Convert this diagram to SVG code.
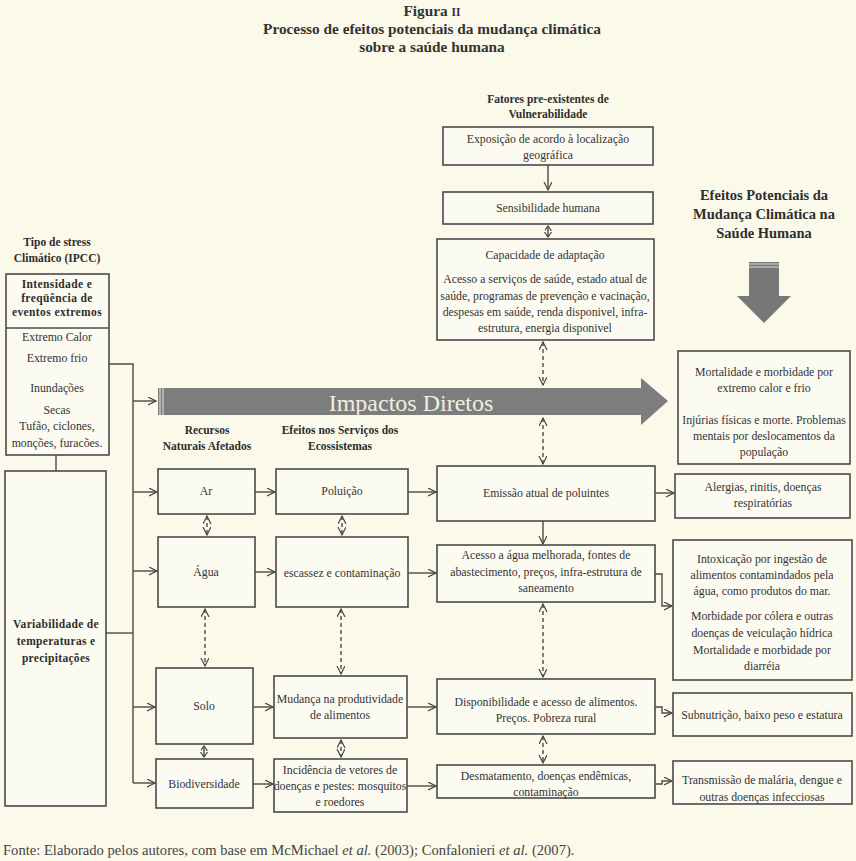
<svg xmlns="http://www.w3.org/2000/svg" width="856" height="861" viewBox="0 0 856 861">
<defs>
<marker id="ah" markerUnits="userSpaceOnUse" markerWidth="10" markerHeight="10" refX="8" refY="4" orient="auto-start-reverse">
<path d="M0,0 L8,4 L0,8" fill="none" stroke="#444" stroke-width="1.2"/>
</marker>
<marker id="ahs" markerUnits="userSpaceOnUse" markerWidth="8" markerHeight="8" refX="5" refY="3.5" orient="auto-start-reverse">
<path d="M0,0 L5,3.5 L0,7" fill="none" stroke="#444" stroke-width="1.2"/>
</marker>
<style>
.bx{fill:#fcfbf1;stroke:#4a4a4a;stroke-width:1.6}
.t{font-family:"Liberation Serif","Times New Roman",serif;font-size:11.8px;fill:#333;text-anchor:middle}
.b{font-family:"Liberation Serif","Times New Roman",serif;font-size:11.5px;font-weight:bold;fill:#2e2e2e;text-anchor:middle}
.h{font-family:"Liberation Serif","Times New Roman",serif;font-size:14.5px;font-weight:bold;fill:#2e2e2e;text-anchor:middle}
.ti{font-family:"Liberation Serif",Georgia,serif;font-size:15.3px;font-weight:bold;fill:#333;text-anchor:middle}
.ln{fill:none;stroke:#4a4a4a;stroke-width:1.4}
.ar{fill:none;stroke:#4a4a4a;stroke-width:1.4;marker-end:url(#ah)}
.da{fill:none;stroke:#4a4a4a;stroke-width:1.4;stroke-dasharray:4,3;marker-end:url(#ah);marker-start:url(#ah)}
.dd{fill:none;stroke:#4a4a4a;stroke-width:1.4;marker-end:url(#ahs);marker-start:url(#ahs)}
</style>
</defs>
<rect x="0" y="0" width="856" height="861" fill="#fbf9ea"/>

<g id="title">
<text class="ti" x="432" y="16">Figura <tspan font-size="11.5">II</tspan></text>
<text class="ti" x="432" y="34">Processo de efeitos potenciais da mudança climática</text>
<text class="ti" x="432" y="52">sobre a saúde humana</text>
</g>

<g id="hdr-stress">
<text class="b" x="57" y="246">Tipo de stress</text>
<text class="b" x="57" y="262">Climático (IPCC)</text>
</g>
<g id="hdr-fatores">
<text class="b" x="548" y="103">Fatores pre-existentes de</text>
<text class="b" x="548" y="118">Vulnerabilidade</text>
</g>
<g id="hdr-efeitos">
<text class="h" x="764" y="200">Efeitos Potenciais da</text>
<text class="h" x="764" y="219">Mudança Climática na</text>
<text class="h" x="764" y="238">Saúde Humana</text>
<path d="M749,262 H779 V296 H791 L764,323 L737,296 H749 Z" fill="#777"/>
<line x1="749" y1="264" x2="779" y2="264" stroke="#ddd" stroke-width="1"/>
<line x1="749" y1="267" x2="779" y2="267" stroke="#ddd" stroke-width="1"/>
</g>
<g id="hdr-recursos">
<text class="b" x="207" y="434">Recursos</text>
<text class="b" x="207" y="450">Naturais Afetados</text>
</g>
<g id="hdr-servicos">
<text class="b" x="340" y="434">Efeitos nos Serviços dos</text>
<text class="b" x="340" y="450">Ecossistemas</text>
</g>

<g id="impactos">
<path d="M158,388 H641 V378 L668,401 L641,425 V415 H158 Z" fill="#7d7d7d"/>
<line x1="160" y1="388" x2="160" y2="415" stroke="#e8e6da" stroke-width="1"/>
<line x1="163" y1="388" x2="163" y2="415" stroke="#e8e6da" stroke-width="1"/>
<text x="411" y="411" font-family="'Liberation Serif','Times New Roman',serif" font-size="24" fill="#f0eee4" text-anchor="middle">Impactos  Diretos</text>
</g>

<g id="n-eventos">
<rect class="bx" x="6" y="274" width="103" height="181"/>
<line class="ln" x1="6" y1="328" x2="109" y2="328"/>
<text class="b" x="57" y="288" letter-spacing="0.4">Intensidade e</text>
<text class="b" x="57" y="302" letter-spacing="0.4">freqüência de</text>
<text class="b" x="57" y="316" letter-spacing="0.4">eventos extremos</text>
<text class="t" x="57" y="341">Extremo Calor</text>
<text class="t" x="57" y="362">Extremo frio</text>
<text class="t" x="57" y="392">Inundações</text>
<text class="t" x="57" y="414">Secas</text>
<text class="t" x="57" y="430">Tufão, ciclones,</text>
<text class="t" x="57" y="447">monções, furacões.</text>
</g>
<g id="n-variabilidade">
<rect class="bx" x="5" y="471" width="101" height="335"/>
<text class="b" x="56" y="628" letter-spacing="0.3">Variabilidade de</text>
<text class="b" x="56" y="645" letter-spacing="0.3">temperaturas e</text>
<text class="b" x="56" y="662" letter-spacing="0.3">precipitações</text>
</g>

<g id="n-exposicao">
<rect class="bx" x="443" y="127" width="210" height="38"/>
<text class="t" x="548" y="143">Exposição de acordo à localização</text>
<text class="t" x="548" y="159">geográfica</text>
</g>
<g id="n-sensibilidade">
<rect class="bx" x="443" y="192" width="210" height="32"/>
<text class="t" x="548" y="212">Sensibilidade humana</text>
</g>
<g id="n-capacidade">
<rect class="bx" x="437" y="239" width="217" height="101"/>
<text class="t" x="545" y="259">Capacidade de adaptação</text>
<text class="t" x="545" y="283">Acesso a serviços de saúde, estado atual de</text>
<text class="t" x="545" y="300">saúde, programas de prevenção e vacinação,</text>
<text class="t" x="545" y="316">despesas em saúde, renda disponivel, infra-</text>
<text class="t" x="545" y="332">estrutura, energia disponivel</text>
</g>

<g id="n-ar">
<rect class="bx" x="158" y="469" width="97" height="45"/>
<text class="t" x="206" y="495">Ar</text>
</g>
<g id="n-agua">
<rect class="bx" x="158" y="537" width="97" height="70"/>
<text class="t" x="206" y="576">Água</text>
</g>
<g id="n-solo">
<rect class="bx" x="156" y="668" width="97" height="76"/>
<text class="t" x="204" y="710">Solo</text>
</g>
<g id="n-biodiversidade">
<rect class="bx" x="156" y="759" width="97" height="49"/>
<text class="t" x="204" y="788">Biodiversidade</text>
</g>

<g id="n-poluicao">
<rect class="bx" x="276" y="469" width="132" height="45"/>
<text class="t" x="342" y="495">Poluição</text>
</g>
<g id="n-escassez">
<rect class="bx" x="276" y="537" width="132" height="70"/>
<text class="t" x="342" y="577">escassez e contaminação</text>
</g>
<g id="n-mudanca">
<rect class="bx" x="274" y="676" width="133" height="62"/>
<text class="t" x="340" y="703">Mudança na produtividade</text>
<text class="t" x="340" y="719">de alimentos</text>
</g>
<g id="n-incidencia">
<rect class="bx" x="274" y="759" width="133" height="53"/>
<text class="t" x="340" y="774">Incidência de vetores de</text>
<text class="t" x="340" y="790">doenças e pestes: mosquitos</text>
<text class="t" x="340" y="806">e roedores</text>
</g>

<g id="n-emissao">
<rect class="bx" x="437" y="466" width="218" height="55"/>
<text class="t" x="546" y="497">Emissão atual de poluintes</text>
</g>
<g id="n-acesso">
<rect class="bx" x="437" y="545" width="218" height="57"/>
<text class="t" x="546" y="559">Acesso a água melhorada, fontes de</text>
<text class="t" x="546" y="576">abastecimento, preços, infra-estrutura de</text>
<text class="t" x="546" y="592">saneamento</text>
</g>
<g id="n-disponibilidade">
<rect class="bx" x="437" y="679" width="218" height="55"/>
<text class="t" x="546" y="706">Disponibilidade e acesso de alimentos.</text>
<text class="t" x="546" y="722">Preços. Pobreza rural</text>
</g>
<g id="n-desmatamento">
<rect class="bx" x="437" y="765" width="218" height="33"/>
<text class="t" x="546" y="780">Desmatamento, doenças endêmicas,</text>
<text class="t" x="546" y="796">contaminação</text>
</g>

<g id="n-mortalidade">
<rect class="bx" x="678" y="351" width="172" height="113"/>
<text class="t" x="764" y="376">Mortalidade e morbidade por</text>
<text class="t" x="764" y="392">extremo calor e frio</text>
<text class="t" x="764" y="424">Injúrias físicas e morte. Problemas</text>
<text class="t" x="764" y="440">mentais por deslocamentos da</text>
<text class="t" x="764" y="456">população</text>
</g>
<g id="n-alergias">
<rect class="bx" x="675" y="474" width="175" height="44"/>
<text class="t" x="763" y="491">Alergias, rinitis, doenças</text>
<text class="t" x="763" y="507">respiratórias</text>
</g>
<g id="n-intoxicacao">
<rect class="bx" x="673" y="540" width="179" height="140"/>
<text class="t" x="762" y="563">Intoxicação por ingestão de</text>
<text class="t" x="762" y="579">alimentos contamindados pela</text>
<text class="t" x="762" y="595">água, como produtos do mar.</text>
<text class="t" x="762" y="620">Morbidade por cólera e outras</text>
<text class="t" x="762" y="637">doenças de veiculação hídrica</text>
<text class="t" x="762" y="654">Mortalidade e morbidade por</text>
<text class="t" x="762" y="670">diarréia</text>
</g>
<g id="n-subnutricao">
<rect class="bx" x="673" y="693" width="179" height="43"/>
<text class="t" x="762" y="719">Subnutrição, baixo peso e estatura</text>
</g>
<g id="n-transmissao">
<rect class="bx" x="673" y="761" width="179" height="43"/>
<text class="t" x="762" y="784">Transmissão de malária, dengue e</text>
<text class="t" x="762" y="801">outras doenças infecciosas</text>
</g>

<g id="connectors">
<path class="ln" d="M109,364 H133 V783"/>
<path class="ln" d="M56,455 V471"/>
<path class="ln" d="M106,633 H133"/>
<path class="ar" d="M133,401 H156"/>
<path class="ar" d="M133,492 H157"/>
<path class="ar" d="M133,571 H157"/>
<path class="ar" d="M133,707 H155"/>
<path class="ar" d="M133,783 H155"/>

<path class="ar" d="M255,492 H275"/>
<path class="ar" d="M255,572 H275"/>
<path class="ar" d="M253,707 H273"/>
<path class="ar" d="M253,784 H273"/>

<path class="ar" d="M408,492 H436"/>
<path class="ar" d="M408,573 H436"/>
<path class="ar" d="M407,707 H436"/>
<path class="ar" d="M407,786 H436"/>

<path class="ar" d="M655,493 H674"/>
<path class="ar" d="M655,574 H662 V606 H672"/>
<path class="ar" d="M655,707 H662 V713 H672"/>
<path class="ar" d="M655,784 H662 V781 H672"/>

<path class="ar" d="M548,165 V190"/>
<path class="dd" d="M548,226 V237"/>
<path class="da" d="M543,342 V385"/>
<path class="da" d="M543,418 V464"/>
<path class="ar" d="M543,521 V544"/>
<path class="da" d="M543,604 V677"/>
<path class="da" d="M543,736 V763"/>

<path class="da" d="M207,516 V535"/>
<path class="da" d="M342,516 V535"/>
<path class="da" d="M205,609 V666"/>
<path class="da" d="M341,609 V674"/>
<path class="dd" d="M204,746 V757"/>
<path class="da" d="M341,740 V757"/>
</g>

<g id="footer">
<text x="3" y="855" font-family="'Liberation Serif','Times New Roman',serif" font-size="14.6" fill="#444">Fonte: Elaborado pelos autores, com base em McMichael <tspan font-style="italic">et al.</tspan> (2003); Confalonieri <tspan font-style="italic">et al.</tspan> (2007).</text>
</g>
</svg>
